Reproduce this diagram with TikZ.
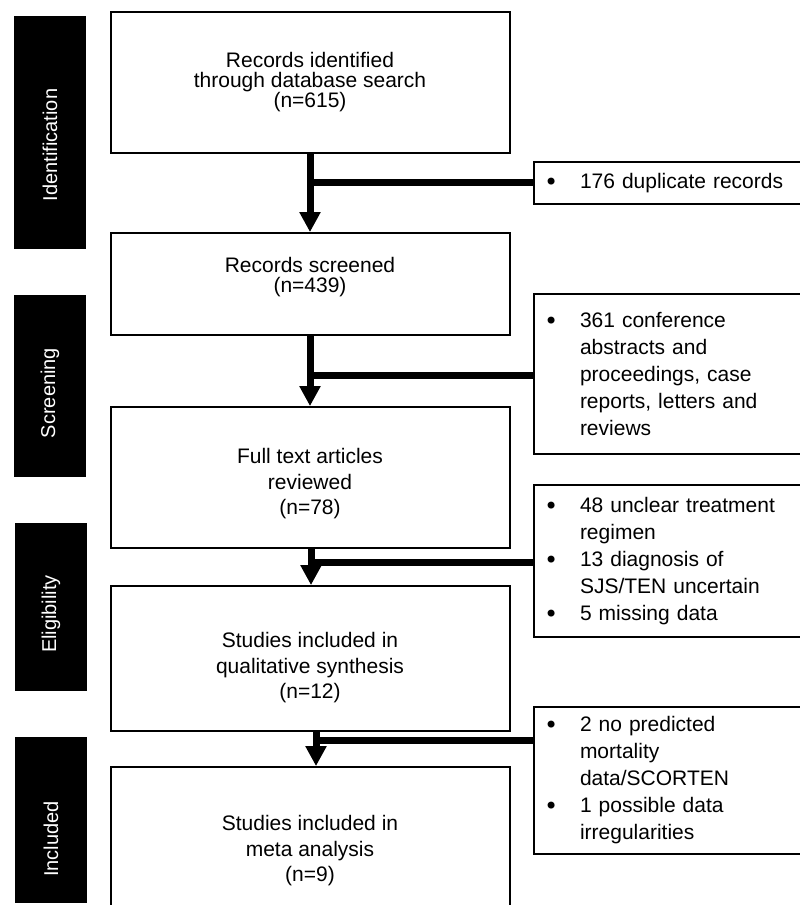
\documentclass[tikz,border=0pt]{standalone}
\usepackage{fontspec}
\setmainfont{Liberation Sans}
\newfontfamily\dejavu{DejaVu Sans}
\usetikzlibrary{arrows.meta}
\newcommand\bulitem{\makebox[35pt][l]{\hspace*{-1pt}\raisebox{-2pt}{\dejavu\fontsize{24}{24}\selectfont •}}}
\newcommand\contline{\hspace*{35pt}}
\begin{document}
\begin{tikzpicture}[x=1pt,y=-1pt,
  box/.style={draw=black,line width=1.8pt,fill=white,inner sep=0pt,minimum width=399pt},
  bar/.style={fill=black,draw=none,inner sep=0pt,minimum width=72pt},
  sidetext/.style={text=white,rotate=90,font=\fontsize{20}{24}\selectfont,inner sep=0pt},
  maintext/.style={align=center,inner sep=0pt},
  sidebox/.style={draw=black,line width=1.8pt,fill=white,inner xsep=11pt,inner ysep=0pt,
    align=left,text width=256pt,minimum width=278pt,font=\fontsize{21}{27}\selectfont},
  conn/.style={line width=7pt,draw=black},
  arr/.style={line width=7pt,draw=black,-{Triangle[length=20pt,width=20pt]}}]
\useasboundingbox (0,0) rectangle (800,905);

% phase bars
\node[bar,minimum height=233pt] (S1) at (50,132.5) {};
\node[bar,minimum height=182pt] (S2) at (50,386) {};
\node[bar,minimum height=168pt] (S3) at (51,607) {};
\node[bar,minimum height=166pt] (S4) at (51,820) {};
\node[sidetext] (L1) at (50,145) {Identification};
\node[sidetext] (L2) at (50,393) {Screening};
\node[sidetext] (L3) at (51,614) {Eligibility};
\node[sidetext] (L4) at (51,839) {Included};

% main boxes
\node[box,minimum height=141pt] (B1) at (310.5,82.5) {};
\node[box,minimum height=102pt] (B2) at (310.5,284) {};
\node[box,minimum height=141pt] (B3) at (310.5,477.5) {};
\node[box,minimum height=145pt] (B4) at (310.5,658.5) {};
\node[box,minimum height=148pt] (B5) at (310.5,841) {};

\node[maintext,font=\fontsize{21}{20}\selectfont] (T1) at (310,82)
  {Records identified\\through database search\\(n=615)};
\node[maintext,font=\fontsize{21}{20}\selectfont] (T2) at (310,277)
  {Records screened\\(n=439)};
\node[maintext,font=\fontsize{21}{25.5}\selectfont] (T3) at (310,484)
  {Full text articles\\reviewed\\(n=78)};
\node[maintext,font=\fontsize{21}{25.5}\selectfont] (T4) at (310,668)
  {Studies included in\\qualitative synthesis\\(n=12)};
\node[maintext,font=\fontsize{21}{25.5}\selectfont] (T5) at (310,851)
  {Studies included in\\meta analysis\\(n=9)};

% exclusion boxes
\node[sidebox,minimum height=42pt] (R1) at (673,183)
  {\bulitem 176 duplicate records};
\node[sidebox,minimum height=160pt] (R2) at (673,374)
  {\bulitem 361 conference\\\contline abstracts and\\\contline proceedings, case\\\contline reports, letters and\\\contline reviews};
\node[sidebox,minimum height=152pt] (R3) at (673,561)
  {\bulitem 48 unclear treatment\\\contline regimen\\\bulitem 13 diagnosis of\\\contline SJS/TEN uncertain\\\bulitem 5 missing data};
\node[sidebox,minimum height=147pt] (R4) at (673,780.5)
  {\bulitem 2 no predicted\\\contline mortality\\\contline data/SCORTEN\\\bulitem 1 possible data\\\contline irregularities};

% connectors
\coordinate (j1) at (310,182);
\coordinate (j2) at (310,375);
\coordinate (j3) at (311,562);
\coordinate (j4) at (316,740);
\draw[arr] (j1 |- B1.south) -- (j1 |- B2.north);
\draw[conn] (j1) -- (j1 -| R1.west);
\draw[arr] (j2 |- B2.south) -- (j2 |- B3.north);
\draw[conn] (j2) -- (j2 -| R2.west);
\draw[arr] (j3 |- B3.south) -- (j3 |- B4.north);
\draw[conn] (j3) -- (j3 -| R3.west);
\draw[arr] (j4 |- B4.south) -- (j4 |- B5.north);
\draw[conn] (j4) -- (j4 -| R4.west);
\end{tikzpicture}
\end{document}
